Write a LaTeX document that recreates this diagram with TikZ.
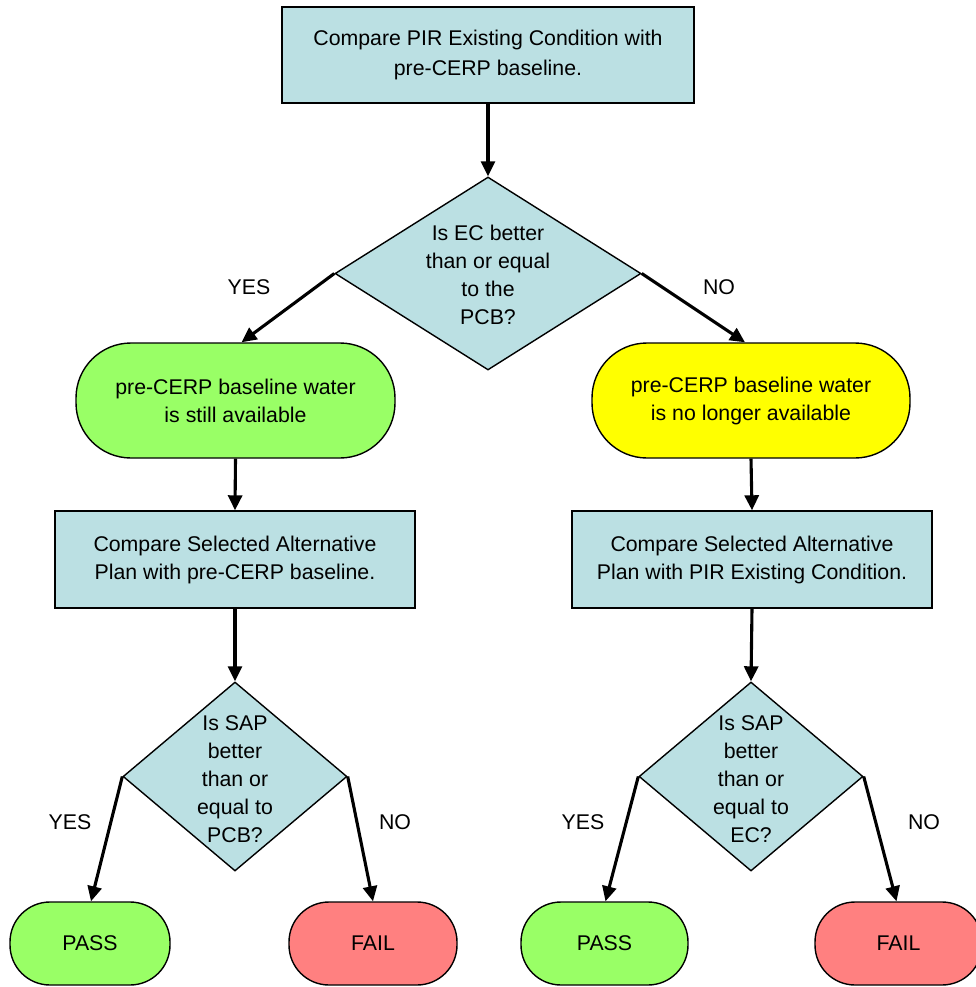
\documentclass[tikz,border=0pt]{standalone}
\usepackage{fontspec}
\setmainfont{Liberation Sans}
\usetikzlibrary{shapes.geometric,arrows.meta}
\definecolor{boxblue}{RGB}{187,224,227}
\definecolor{passgreen}{RGB}{153,255,102}
\definecolor{warnyellow}{RGB}{255,255,0}
\definecolor{failred}{RGB}{255,128,128}
\tikzset{
  txt/.style={font=\fontsize{21.3}{28}\selectfont, align=center, text=black},
  procbox/.style={txt, draw=black, line width=1.4pt, fill=boxblue, rectangle, inner sep=0pt},
  termbox/.style={txt, draw=black, line width=1.4pt, rectangle, inner sep=0pt},
  decbox/.style={draw=black, line width=1.4pt, fill=boxblue, diamond, inner sep=0pt, aspect=1},
  arr/.style={line width=3.1pt, -{Triangle[length=15pt,width=14pt]}},
  lbl/.style={font=\fontsize{21.3}{28}\selectfont, text=black}
}
\begin{document}
\begin{tikzpicture}[x=1pt,y=-1pt]
\useasboundingbox (0,0) rectangle (976,987);
% top process
\node[procbox, font=\fontsize{21.3}{30}\selectfont, minimum width=412pt, minimum height=96pt] (top) at (488,55) {Compare PIR Existing Condition with\\pre-CERP baseline.};
% first decision
\node[decbox, minimum width=306pt, minimum height=193pt] (d1) at (488,273.5) {};
\node[txt] (d1t) at (488,275) {Is EC better\\than or equal\\to the\\PCB?};
% outcome terminals
\node[termbox, fill=passgreen, rounded corners=55pt, minimum width=319pt, minimum height=115pt] (g1) at (235.5,400.5) {pre-CERP baseline water\\is still available};
\node[termbox, fill=warnyellow, rounded corners=55pt, minimum width=318pt, minimum height=115pt] (y1) at (751,400.5) {pre-CERP baseline water\\is no longer available};
% process boxes
\node[procbox, minimum width=360pt, minimum height=97pt] (r1) at (235,559.5) {Compare Selected Alternative\\Plan with pre-CERP baseline.};
\node[procbox, minimum width=360pt, minimum height=97pt] (r2) at (752,559.5) {Compare Selected Alternative\\Plan with PIR Existing Condition.};
% second decisions
\node[decbox, minimum width=224pt, minimum height=189pt] (d2) at (235,776.5) {};
\node[txt] (d2t) at (235,779) {Is SAP\\better\\than or\\equal to\\PCB?};
\node[decbox, minimum width=224pt, minimum height=189pt] (d3) at (751,776.5) {};
\node[txt] (d3t) at (751,779) {Is SAP\\better\\than or\\equal to\\EC?};
% final terminals
\node[termbox, fill=passgreen, rounded corners=40pt, minimum width=160pt, minimum height=83pt] (p1) at (90,943.5) {PASS};
\node[termbox, fill=failred, rounded corners=40pt, minimum width=168pt, minimum height=83pt] (f1) at (373,943.5) {FAIL};
\node[termbox, fill=passgreen, rounded corners=40pt, minimum width=167pt, minimum height=83pt] (p2) at (604.5,943.5) {PASS};
\node[termbox, fill=failred, rounded corners=40pt, minimum width=167pt, minimum height=83pt] (f2) at (898.5,943.5) {FAIL};
% labels
\node[lbl] (l1) at (249,287) {YES};
\node[lbl] (l2) at (719,287) {NO};
\node[lbl] (l3) at (70,822) {YES};
\node[lbl] (l4) at (395,822) {NO};
\node[lbl] (l5) at (583,822) {YES};
\node[lbl] (l6) at (924,822) {NO};
% connectors
\draw[arr] (top.south) -- (d1.north);
\draw[arr] (d1.west) -- ([xshift=6pt]g1.north);
\draw[arr] (d1.east) -- ([xshift=-6pt]y1.north);
\draw[arr] (g1.south) -- (r1.north);
\draw[arr] (y1.south) -- (r2.north);
\draw[arr] (r1.south) -- (d2.north);
\draw[arr] (r2.south) -- (d3.north);
\draw[arr] (d2.west) -- ([xshift=1pt]p1.north);
\draw[arr] (d2.east) -- (f1.north);
\draw[arr] (d3.west) -- ([xshift=1pt]p2.north);
\draw[arr] (d3.east) -- ([xshift=-2pt]f2.north);
\end{tikzpicture}
\end{document}
